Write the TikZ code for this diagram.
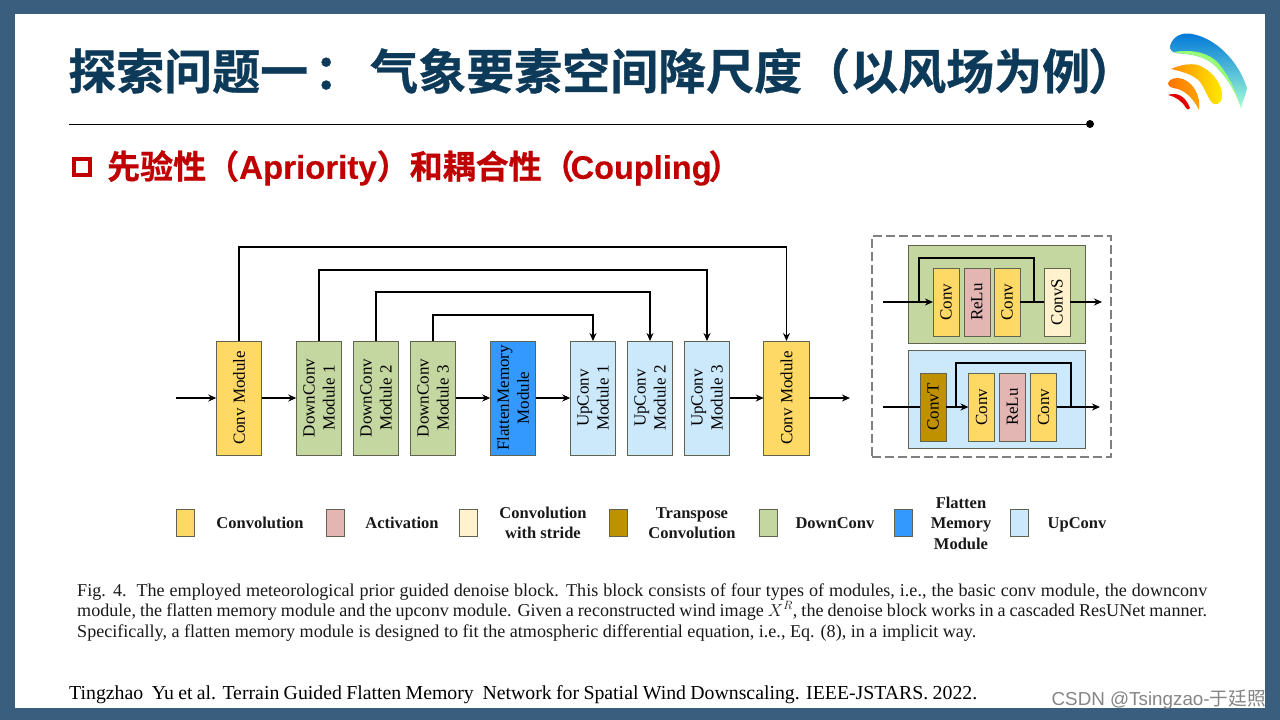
\documentclass[tikz,border=0pt]{standalone}
\usepackage{fontspec}
\setmainfont{Liberation Serif}
\newfontfamily\cjkb[FakeBold=0.7]{Noto Sans CJK SC Bold}
\newfontfamily\latb[FakeBold=0.3]{Liberation Sans Bold}
\newfontfamily\wm{Liberation Sans}
\newfontfamily\wmc{Noto Sans CJK SC}
\usetikzlibrary{arrows.meta}
\definecolor{frameblue}{HTML}{3A5F7E}
\definecolor{titleblue}{HTML}{0E3A5A}
\definecolor{redtitle}{HTML}{C00000}
\definecolor{cconv}{HTML}{FFD966}
\definecolor{cdown}{HTML}{C5D7A0}
\definecolor{crelu}{HTML}{E3B6B4}
\definecolor{cstride}{HTML}{FFF2CC}
\definecolor{ctrans}{HTML}{BF9000}
\definecolor{cflat}{HTML}{3399FF}
\definecolor{cup}{HTML}{CCE9FC}
\definecolor{edgeg}{HTML}{5F6350}
\tikzset{
  x=1pt,y=-1pt,
  modbase/.style={draw=edgeg,line width=0.9pt,inner sep=0pt,outer sep=0pt,rotate=90,align=center,text=black,font=\fontsize{17}{20}\selectfont},
  module/.style={modbase,minimum width=114pt,minimum height=45.5pt},
  mini/.style={modbase,minimum width=68pt,minimum height=26pt},
  swatch/.style={draw=edgeg,line width=0.8pt,minimum width=18pt,minimum height=27pt,inner sep=0pt,outer sep=0pt},
  leg/.style={font=\fontsize{16.5}{20.5}\selectfont\bfseries,align=center,text=black!90},
  wire/.style={draw=black,line width=1.3pt},
  flow/.style={wire,-{Stealth[length=8pt,width=7pt]}},
  panel/.style={draw=edgeg,line width=1pt,inner sep=0pt,outer sep=0pt},
  captext/.style={anchor=base west,inner sep=0pt,font=\fontsize{18.1}{20}\selectfont,text=black!90},
}
\begin{document}
\begin{tikzpicture}
\useasboundingbox (0,0) rectangle (1280,720);
\fill[frameblue] (0,0) rectangle (1280,720);
\fill[white] (15,14) rectangle (1265,708);
% title
\node[anchor=west,inner sep=0pt,text=titleblue,font=\fontsize{48}{50}\cjkb] (title) at (68,71) {探索问题一\hspace{6pt}：\hspace{8pt}气象要素空间降尺度（以风场为例\hspace{-2pt}）};
\coordinate (ruleL) at (69,124);
\node[circle,fill=black,inner sep=0pt,minimum size=8pt] (ruleR) at (1090,124) {};
\draw[black,line width=0.9pt] (ruleL) -- (ruleR);
\node[draw=redtitle,line width=4.4pt,minimum size=16pt,inner sep=0pt] (bullet) at (82,167) {};
\node[anchor=west,inner sep=0pt,text=redtitle,font=\fontsize{33}{36}\cjkb] (sub) at (107,168) {先验性（{\latb Apriority}）和耦合性（\hspace{-4pt}{\fontsize{32.5}{36}\latb Coupling}\hspace{-3pt}）};
% logo
\shade[top color=blue!45!cyan!85!black,bottom color=cyan!55!green!35!white,shading angle=0]
  (1170,46) .. controls (1173,36) and (1182,32) .. (1192,34) .. controls (1215,38) and (1238,60) .. (1247,88)
  .. controls (1246,95) and (1243,100) .. (1241,108) .. controls (1236,92) and (1226,75) .. (1212,63) .. controls (1200,54) and (1185,54) .. (1176,53) .. controls (1172,52) and (1170,50) .. (1170,46) -- cycle;
\fill[green!45!yellow!65!white!85!cyan]
  (1174,52) .. controls (1185,50) and (1203,50) .. (1215,60) .. controls (1226,70) and (1236,90) .. (1241,108)
  .. controls (1236,92) and (1226,75) .. (1212,63) .. controls (1200,54) and (1185,54) .. (1176,53) -- cycle;
\shade[left color=orange!90!yellow,right color=yellow!85!orange]
  (1171,69) .. controls (1180,65) and (1190,63) .. (1198,65) .. controls (1210,69) and (1221,82) .. (1222,93) .. controls (1223,100) and (1219,106) .. (1214,104) .. controls (1209,102) and (1206,90) .. (1200,82) .. controls (1194,75) and (1184,72) .. (1171,69) -- cycle;
\shade[left color=orange!90!red,right color=orange!70!yellow]
  (1168,83) .. controls (1170,78) and (1177,77) .. (1183,79) .. controls (1193,83) and (1201,95) .. (1199,110) .. controls (1194,100) and (1187,92) .. (1178,89) .. controls (1172,88) and (1168,87) .. (1168,83) -- cycle;
\fill[red!90!black]
  (1168,95) .. controls (1176,92) and (1185,95) .. (1190,108) .. controls (1189,110) and (1187,110) .. (1186,108) .. controls (1182,101) and (1176,97) .. (1168,95) -- cycle;
% main flow
\coordinate (in) at (176,398);
\coordinate (out) at (850,398);
\node[module,fill=cconv] (c1) at (239,398) {Conv Module};
\node[module,fill=cdown] (d1) at (319,398) {DownConv\\Module 1};
\node[module,fill=cdown] (d2) at (376,398) {DownConv\\Module 2};
\node[module,fill=cdown] (d3) at (433,398) {DownConv\\Module 3};
\node[module,fill=cflat] (fm) at (513,398) {FlattenMemory\\Module};
\node[module,fill=cup] (u1) at (593,398) {UpConv\\Module 1};
\node[module,fill=cup] (u2) at (650,398) {UpConv\\Module 2};
\node[module,fill=cup] (u3) at (707,398) {UpConv\\Module 3};
\node[module,fill=cconv] (c2) at (786.5,398) {Conv Module};
\draw[flow] (in) -- (c1);
\draw[flow] (c1) -- (d1);
\draw[flow] (d3) -- (fm);
\draw[flow] (fm) -- (u1);
\draw[flow] (u3) -- (c2);
\draw[flow] (c2) -- (out);
\coordinate (s1) at (500,247);
\coordinate (s2) at (500,270);
\coordinate (s3) at (500,292);
\coordinate (s4) at (500,315);
\draw[flow] (c1.east) |- (s1) -| (c2.east);
\draw[flow] (d1.east) |- (s2) -| (u3.east);
\draw[flow] (d2.east) |- (s3) -| (u2.east);
\draw[flow] (d3.east) |- (s4) -| (u1.east);
% right panel
\node[draw=black!50,dash pattern=on 9pt off 4pt,line width=1.3pt,minimum width=239pt,minimum height=221pt,inner sep=0pt] (outer) at (991.5,346.5) {};
\node[panel,fill=cdown,minimum width=177pt,minimum height=98pt] (pg) at (996.5,294) {};
\node[panel,fill=cup,minimum width=177pt,minimum height=98pt] (pb) at (996.5,399) {};
\node[mini,fill=cconv] (a1) at (946,302) {Conv};
\node[mini,fill=crelu] (a2) at (977,302) {ReLu};
\node[mini,fill=cconv] (a3) at (1007,302) {Conv};
\node[mini,fill=cstride] (a4) at (1057,302) {ConvS};
\coordinate (ain) at (883,302);
\coordinate (aout) at (1102,302);
\coordinate (as1) at (919,302);
\coordinate (as2) at (919,258);
\coordinate (as3) at (1034,258);
\coordinate (as4) at (1034,302);
\draw[flow] (ain) -- (a1);
\draw[wire] (a3) -- (a4);
\draw[flow] (a4) -- (aout);
\draw[wire] (as1) -- (as2) -- (as3) -- (as4);
\node[mini,fill=ctrans] (b0) at (933,407) {ConvT};
\node[mini,fill=cconv] (b1) at (981.5,407) {Conv};
\node[mini,fill=crelu] (b2) at (1012.5,407) {ReLu};
\node[mini,fill=cconv] (b3) at (1043.5,407) {Conv};
\coordinate (bin) at (883,407);
\coordinate (bout) at (1100,407);
\coordinate (bs1) at (956,407);
\coordinate (bs2) at (956,363);
\coordinate (bs3) at (1071,363);
\coordinate (bs4) at (1071,407);
\draw[wire] (bin) -- (b0);
\draw[flow] (b0) -- (b1);
\draw[flow] (b3) -- (bout);
\draw[wire] (bs1) -- (bs2) -- (bs3) -- (bs4);
% legend
\node[swatch,fill=cconv] (l1) at (185,522.5) {};
\node[swatch,fill=crelu] (l2) at (335,522.5) {};
\node[swatch,fill=cstride] (l3) at (468,522.5) {};
\node[swatch,fill=ctrans] (l4) at (618,522.5) {};
\node[swatch,fill=cdown] (l5) at (768,522.5) {};
\node[swatch,fill=cflat] (l6) at (903,522.5) {};
\node[swatch,fill=cup] (l7) at (1019,522.5) {};
\node[leg] (t1) at (260,523) {Convolution};
\node[leg] (t2) at (402,523) {Activation};
\node[leg] (t3) at (543,523) {Convolution\\with stride};
\node[leg] (t4) at (692,523) {Transpose\\Convolution};
\node[leg] (t5) at (835,523) {DownConv};
\node[leg] (t6) at (961,523) {Flatten\\Memory\\Module};
\node[leg] (t7) at (1077,525) {UpConv};
% caption
\node[captext] (cap1) at (77,596) {\makebox[1130pt][s]{Fig. 4.\ \ The employed meteorological prior guided denoise block. This block consists of four types of modules, i.e., the basic conv module, the downconv}};
\node[captext] (cap2) at (77,616) {\makebox[1130pt][s]{module, the flatten memory module and the upconv module. Given a reconstructed wind image $X^{R}$, the denoise block works in a cascaded ResUNet manner.}};
\node[captext] (cap3) at (77,637) {Specifically, a flatten memory module is designed to fit the atmospheric differential equation, i.e., Eq. (8), in a implicit way.};
\node[anchor=base west,inner sep=0pt,text=black,font=\fontsize{19.8}{20}\selectfont] (ref) at (69,699) {\makebox[908pt][s]{Tingzhao\ \ Yu et al. Terrain Guided Flatten Memory\ \ Network for Spatial Wind Downscaling. IEEE-JSTARS. 2022.}};
\node[anchor=east,inner sep=0pt,text=black!48,font=\fontsize{18.8}{20}\wm] (wmk) at (1266,700) {CSDN @Tsingzao-{\fontsize{18.7}{20}\wmc 于廷照}};
\end{tikzpicture}
\end{document}
